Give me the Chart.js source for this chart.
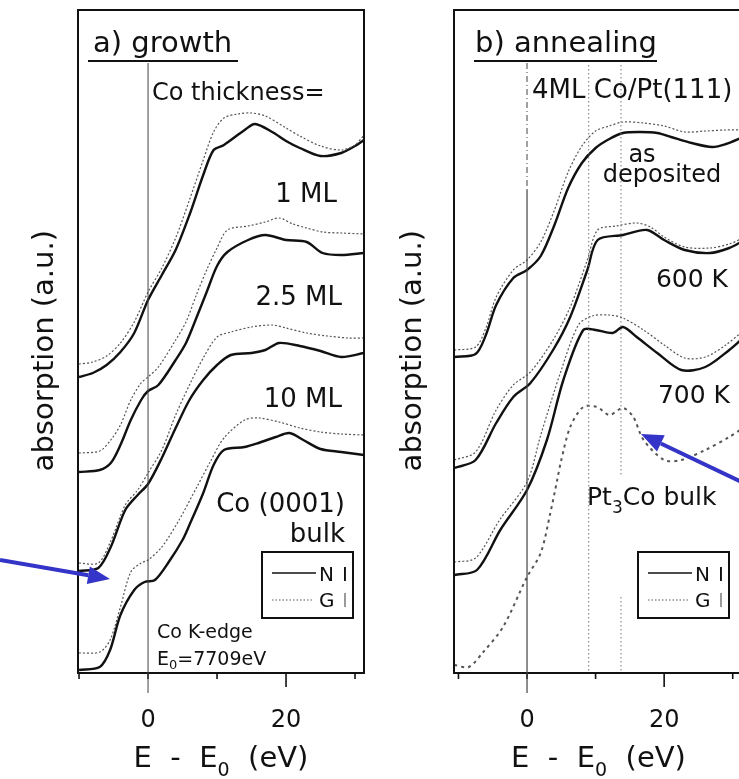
<!DOCTYPE html>
<html>
<head>
<meta charset="utf-8">
<script src="https://cdn.jsdelivr.net/npm/chart.js@4.4.1/dist/chart.umd.min.js"></script>
<style>
  html, body { margin: 0; padding: 0; background: #fff; overflow: hidden; }
  body { width: 739px; height: 779px; position: relative; }
  #growth { position: absolute; left: 0; top: 0; }
  #annealing { position: absolute; left: 370px; top: 0; }
</style>
</head>
<body>
<canvas id="growth" width="370" height="779"></canvas>
<canvas id="annealing" width="380" height="779"></canvas>
<script>
(function () {
  'use strict'

  // a) growth : E - E0 (eV) and absorption (a.u.), NI = normal, GI = grazing incidence
  const ml1NiE = [-10, -8, -6, -4, -2, 0, 2, 4, 6, 8, 9.5, 11, 14, 15.5, 18, 20, 22, 25, 28, 30, 31.3]
  const ml1Ni = [296, 300, 308, 321, 340, 373, 398, 423, 458, 498, 523, 528, 543, 549, 541, 532, 525, 517, 520, 527, 533]
  const ml1GiE = [-10, -8, -6, -4, -2, 0, 2, 4, 6, 8, 9.5, 11, 13, 15, 17, 20, 22, 25, 28, 30, 31.3]
  const ml1Gi = [309, 311, 317, 330, 351, 381, 405, 435, 473, 513, 541, 555, 559, 560, 557, 545, 537, 527, 523, 528, 538]

  const ml25NiE = [-10, -7, -5.4, -4, -2.5, -1, 0, 1.5, 4, 5.5, 7, 8.5, 10, 11.5, 14.5, 17, 20, 23, 25.3, 28, 31.3]
  const ml25Ni = [201, 203, 210, 228, 253, 273, 282, 288, 313, 330, 355, 381, 407, 421, 433, 438, 433, 431, 420, 418, 420]
  const ml25GiE = [-10, -7, -5.4, -4, -2.5, -1, 0, 1.5, 4, 5.5, 7, 8.5, 10, 11.5, 14.5, 17, 19, 21, 23, 25.3, 28, 31.3]
  const ml25Gi = [220, 222, 233, 248, 273, 290, 296, 306, 333, 351, 378, 403, 425, 443, 447, 451, 455, 449, 445, 441, 440, 439]

  const ml10NiE = [-10, -7.2, -5.4, -3.3, -1.5, 0, 2, 4, 6, 8, 10, 12, 15, 17, 19, 22, 25, 28, 31.3]
  const ml10Ni = [102, 105, 126, 163, 178, 189, 215, 245, 273, 293, 308, 318, 320, 323, 330, 327, 322, 316, 320]
  const ml10GiE = [-10, -7.2, -5.4, -3.3, -1.5, 0, 2, 4, 6, 8, 10, 12, 15, 18, 20, 23, 26, 29, 31.3]
  const ml10Gi = [110, 110, 132, 168, 183, 200, 223, 258, 288, 315, 336, 341, 346, 348, 345, 340, 337, 335, 335]

  const bulkNiE = [-10, -7, -5.5, -4, -2, -0.5, 1, 3, 5, 6, 8, 9.5, 11, 14, 16, 18.5, 20.5, 22.5, 25, 28, 31.3]
  const bulkNi = [3, 6, 23, 58, 83, 91, 93, 111, 133, 148, 180, 208, 223, 226, 230, 236, 240, 233, 224, 221, 218]
  const bulkGiE = [-10, -7, -5.5, -4, -2.5, -1, 0, 2, 4.5, 7, 9, 11, 14, 16, 19, 22, 25, 28, 31.3]
  const bulkGi = [20, 21, 33, 66, 101, 110, 113, 126, 153, 185, 211, 235, 253, 255, 251, 245, 241, 239, 238]

  // b) annealing
  const depNiE = [-10.6, -7.5, -6, -4.5, -2, 0, 2, 4, 6, 8, 10, 12, 14, 16.5, 19, 21, 24, 27, 29, 31.5]
  const depNi = [316, 319, 338, 368, 395, 403, 417, 448, 485, 510, 525, 534, 540, 541, 540, 536, 530, 526, 529, 536]
  const depGiE = [-10.6, -7.5, -6, -4.5, -2, 0, 2, 4, 6, 8, 10, 12, 14, 17, 20, 23, 26, 29, 31.5]
  const depGi = [323, 326, 345, 376, 403, 413, 431, 463, 501, 527, 542, 547, 551, 550, 547, 541, 542, 543, 543]

  const k600NiE = [-10.6, -7.5, -4.5, -2, 0.5, 3.8, 6.3, 8.8, 10.3, 14, 17.5, 20, 23, 26.7, 29.5, 31.5]
  const k600Ni = [205, 213, 250, 276, 290, 323, 356, 403, 433, 438, 443, 433, 423, 420, 425, 432]
  const k600GiE = [-10.6, -7.5, -4.5, -2, 0.5, 3.8, 6.3, 8.8, 10.3, 13, 16, 18, 20, 23, 26.7, 29.5, 31.5]
  const k600Gi = [213, 221, 263, 288, 301, 333, 366, 413, 443, 447, 450, 446, 436, 426, 425, 429, 435]

  const k700NiE = [-10.6, -7.3, -3.9, 0, 2.9, 5.3, 8.2, 10, 12.5, 14, 16, 19, 22.5, 26, 29.5, 31.5]
  const k700Ni = [98, 103, 143, 183, 233, 293, 343, 343, 340, 346, 336, 320, 303, 306, 323, 335]
  const k700GiE = [-10.6, -7.5, -4, 0, 2, 5, 7.5, 9.5, 12, 14, 17, 20, 23, 26, 29, 31.5]
  const k700Gi = [111, 115, 153, 191, 238, 303, 348, 357, 358, 355, 343, 328, 315, 316, 328, 342]

  const pt3CoE = [-10.6, -8.5, -6.5, -3.5, 0, 2, 3.4, 4.4, 5, 6.3, 8.2, 10.2, 12, 14, 15.5, 17, 20, 22.5, 26, 29.5, 31.5]
  const pt3Co = [8, 6, 20, 46, 96, 120, 160, 193, 213, 246, 266, 266, 258, 265, 256, 233, 213, 213, 223, 236, 245]

  const tickValues = [-10, 0, 10, 20, 30]
  const tickLabels = ['', '0', '', '20', '']

  const FONT = 'DejaVu Sans'
  const INK = '#111'

  const pts = (xs, ys) => xs.map((x, i) => ({ x: x, y: ys[i] }))
  const ni = (label, xs, ys) => ({
    label: label, data: pts(xs, ys), borderColor: INK, borderWidth: 2.4,
    pointRadius: 0, tension: 0.3, fill: false
  })
  const gi = (label, xs, ys) => ({
    label: label, data: pts(xs, ys), borderColor: '#555', borderWidth: 1.2,
    borderDash: [2, 2], pointRadius: 0, tension: 0.3, fill: false
  })

  // drawing helpers
  function txt (ctx, s, x, y, size, align, color) {
    ctx.font = size + 'px "' + FONT + '"'
    ctx.textAlign = align || 'left'
    ctx.textBaseline = 'alphabetic'
    ctx.fillStyle = color || INK
    ctx.fillText(s, x, y)
  }
  function runs (ctx, parts, x, y, center) {
    let w = 0
    parts.forEach(p => { ctx.font = p[1] + 'px "' + FONT + '"'; w += ctx.measureText(p[0]).width })
    if (center) x -= w / 2
    parts.forEach(p => {
      ctx.font = p[1] + 'px "' + FONT + '"'
      ctx.textAlign = 'left'
      ctx.textBaseline = 'alphabetic'
      ctx.fillStyle = INK
      ctx.fillText(p[0], x, y + (p[2] || 0))
      x += ctx.measureText(p[0]).width
    })
  }
  function line (ctx, x1, y1, x2, y2, w, color, dash) {
    ctx.save()
    ctx.beginPath()
    ctx.lineWidth = w
    ctx.strokeStyle = color || INK
    ctx.setLineDash(dash || [])
    ctx.moveTo(x1, y1)
    ctx.lineTo(x2, y2)
    ctx.stroke()
    ctx.restore()
  }
  function arrow (ctx, x1, y1, x2, y2) {
    const a = Math.atan2(y2 - y1, x2 - x1)
    const L = 22, W = 9
    const c = Math.cos(a), s = Math.sin(a)
    ctx.save()
    ctx.strokeStyle = ctx.fillStyle = '#3434c8'
    ctx.lineWidth = 4
    ctx.beginPath()
    ctx.moveTo(x1, y1)
    ctx.lineTo(x2 - L * c, y2 - L * s)
    ctx.stroke()
    ctx.beginPath()
    ctx.moveTo(x2, y2)
    ctx.lineTo(x2 - L * c + W * s, y2 - L * s - W * c)
    ctx.lineTo(x2 - L * c - W * s, y2 - L * s + W * c)
    ctx.closePath()
    ctx.fill()
    ctx.restore()
  }
  function legendBox (ctx, x, y) {
    ctx.save()
    ctx.lineWidth = 2
    ctx.strokeStyle = INK
    ctx.strokeRect(x, y, 91, 66)
    ctx.restore()
    line(ctx, x + 10, y + 21, x + 54, y + 21, 1.5)
    txt(ctx, 'N', x + 57, y + 29, 20)
    txt(ctx, 'I', x + 80, y + 29, 20)
    line(ctx, x + 10, y + 48, x + 50, y + 48, 1.2, '#555', [1.5, 2])
    txt(ctx, 'G', x + 57, y + 55, 20)
    txt(ctx, 'I', x + 80, y + 55, 20, 'left', '#999')
  }
  function frame (chart) {
    const a = chart.chartArea
    const ctx = chart.ctx
    ctx.save()
    ctx.lineWidth = 2
    ctx.strokeStyle = INK
    ctx.strokeRect(a.left, a.top, a.right - a.left, a.bottom - a.top)
    ctx.restore()
    const x = chart.scales.x
    // tick marks below the axis
    tickValues.forEach(v => {
      const px = x.getPixelForValue(v)
      const len = v === 20 ? 14 : 6
      line(ctx, px, a.bottom, px, a.bottom + len, 1.6)
    })
    // axis title with subscript
    runs(ctx, [['E  -  E', 29], ['0', 19, 9], ['  (eV)', 29]], (a.left + a.right) / 2, 767, true)
  }

  function options (xMin, xMax, yWidth, yTitlePad, padRight) {
    return {
      responsive: false,
      animation: false,
      layout: { padding: { top: 10, right: padRight, bottom: 0, left: 0 } },
      plugins: { legend: { display: false }, tooltip: { enabled: false } },
      scales: {
        x: {
          type: 'linear',
          min: xMin,
          max: xMax,
          afterBuildTicks: s => { s.ticks = tickValues.map(v => ({ value: v })) },
          afterFit: s => { s.height = 106 },
          grid: { display: true, drawOnChartArea: false, drawTicks: true, tickLength: 30, tickColor: 'rgba(0,0,0,0)' },
          border: { display: false },
          ticks: {
            autoSkip: false,
            maxRotation: 0,
            padding: 3,
            color: INK,
            font: { family: FONT, size: 24 },
            callback: v => tickLabels[tickValues.indexOf(v)] || ''
          }
        },
        y: {
          min: 0,
          max: 663,
          afterFit: s => { s.width = yWidth },
          grid: { display: false, drawTicks: false },
          border: { display: false },
          ticks: { display: false },
          title: {
            display: true,
            text: 'absorption (a.u.)  ',
            color: INK,
            font: { family: FONT, size: 29 },
            padding: { top: yTitlePad, bottom: 0 }
          }
        }
      }
    }
  }

  // a) growth
  const growthDecor = {
    id: 'growthDecor',
    afterDraw: chart => {
      const ctx = chart.ctx
      const x0 = chart.scales.x.getPixelForValue(0)
      frame(chart)
      line(ctx, x0, 63, x0, 693, 1, '#444')
      txt(ctx, 'a) growth', 93, 52, 29)
      line(ctx, 88, 61, 238, 61, 2)
      txt(ctx, 'Co thickness=', 152, 100, 24)
      txt(ctx, '1 ML', 337, 202, 26, 'right')
      txt(ctx, '2.5 ML', 342, 305, 26, 'right')
      txt(ctx, '10 ML', 342, 407, 26, 'right')
      txt(ctx, 'Co (0001)', 345, 512, 26, 'right')
      txt(ctx, 'bulk', 345, 542, 26, 'right')
      legendBox(ctx, 262, 552)
      txt(ctx, 'Co K-edge', 157, 638, 19)
      runs(ctx, [['E', 19], ['0', 13, 4], ['=7709eV', 19]], 157, 665)
      arrow(ctx, 0, 560, 110, 579)
    }
  }

  new Chart(document.getElementById('growth'), {
    type: 'line',
    data: {
      datasets: [
        gi('1 ML GI', ml1GiE, ml1Gi), ni('1 ML NI', ml1NiE, ml1Ni),
        gi('2.5 ML GI', ml25GiE, ml25Gi), ni('2.5 ML NI', ml25NiE, ml25Ni),
        gi('10 ML GI', ml10GiE, ml10Gi), ni('10 ML NI', ml10NiE, ml10Ni),
        gi('Co(0001) GI', bulkGiE, bulkGi), ni('Co(0001) NI', bulkNiE, bulkNi)
      ]
    },
    options: options(-10.15, 31.3, 78, 28, 6),
    plugins: [growthDecor]
  })

  // b) annealing (canvas starts 370px right)
  const annealDecor = {
    id: 'annealDecor',
    afterDraw: chart => {
      const ctx = chart.ctx
      const xs = chart.scales.x
      const x0 = xs.getPixelForValue(0)
      const off = 370
      frame(chart)
      line(ctx, x0, 63, x0, 190, 1, '#444', [6, 3, 1, 3])
      line(ctx, x0, 190, x0, 693, 1.2, '#444')
      const d1 = xs.getPixelForValue(9)
      const d2 = xs.getPixelForValue(13.7)
      line(ctx, d1, 65, d1, 673, 1, '#777', [1.5, 2.5])
      line(ctx, d2, 65, d2, 475, 1, '#777', [1.5, 2.5])
      line(ctx, d2, 597, d2, 673, 1, '#777', [1.5, 2.5])
      txt(ctx, 'b) annealing', 475 - off, 52, 29)
      line(ctx, 474 - off, 61, 657 - off, 61, 2)
      txt(ctx, '4ML Co/Pt(111)', 532 - off, 98, 26)
      txt(ctx, 'as', 642 - off, 162, 24, 'center')
      txt(ctx, 'deposited', 662 - off, 182, 24, 'center')
      txt(ctx, '600 K', 728 - off, 287, 25, 'right')
      txt(ctx, '700 K', 730 - off, 403, 25, 'right')
      runs(ctx, [['Pt', 25], ['3', 17, 8], ['Co bulk', 25]], 587 - off, 505)
      legendBox(ctx, 638 - off, 552)
      arrow(ctx, 790 - off, 505, 641 - off, 434)
    }
  }

  new Chart(document.getElementById('annealing'), {
    type: 'line',
    data: {
      datasets: [
        gi('as deposited GI', depGiE, depGi), ni('as deposited NI', depNiE, depNi),
        gi('600 K GI', k600GiE, k600Gi), ni('600 K NI', k600NiE, k600Ni),
        gi('700 K GI', k700GiE, k700Gi), ni('700 K NI', k700NiE, k700Ni),
        {
          label: 'Pt3Co bulk', data: pts(pt3CoE, pt3Co), borderColor: '#555',
          borderWidth: 2, borderDash: [3, 4], pointRadius: 0, tension: 0.3, fill: false
        }
      ]
    },
    options: options(-10.65, 31.5, 84, 26, 7),
    plugins: [annealDecor]
  })
})()
</script>
</body>
</html>
